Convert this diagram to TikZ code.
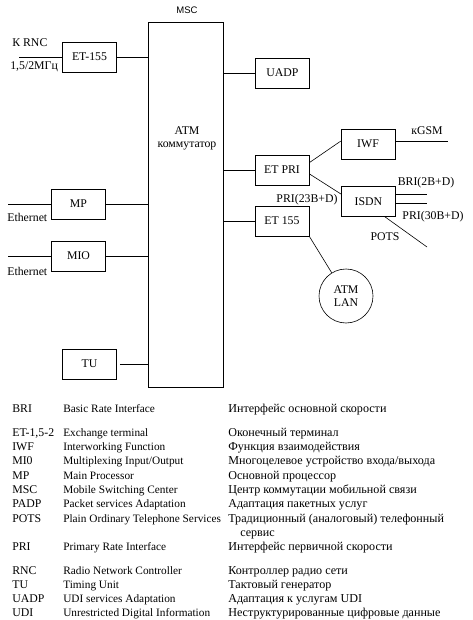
\documentclass[tikz,border=0pt]{standalone}
\usepackage{fontspec}
\usepackage{array}
\setmainfont{Liberation Serif}
\setsansfont{Liberation Sans}
\newcolumntype{W}[1]{>{\hbox to #1\bgroup}l<{\hss\egroup}}

\begin{document}
\begin{tikzpicture}[x=1pt, y=-1pt, line width=0.6pt, font=\fontsize{11.8}{13.5}\selectfont,
  blok/.style={draw, inner sep=0pt, minimum width=54pt, minimum height=30pt},
  lbl/.style={inner sep=0pt}]

\useasboundingbox (0,0) rectangle (472,620);

% MSC with the ATM switch
\node[draw, minimum width=75pt, minimum height=365pt] (msc) at (185.5,204.5) {};
\node[lbl, font=\sffamily\fontsize{9.5}{11}\selectfont] (msclbl) at (187,10) {MSC};
\node[align=center] (atm) at (187,138.5) {ATM\\коммутатор};

\node[blok] (et1) at (89.5,57) {ET-155};
\node[blok] (uadp) at (282.5,73) {UADP};
\node[blok] (etpri) at (282,170) {ET PRI};
\node[blok] (iwf) at (368,144) {IWF};
\node[blok] (isdn) at (368.5,201.5) {ISDN};
\node[blok] (et2) at (282,221) {ET 155};
\node[blok] (mp) at (78.5,204) {MP};
\node[blok] (mio) at (78.5,256) {MIO};
\node[blok] (tu) at (89.5,364) {TU};
\node[draw, circle, minimum size=54pt, inner sep=0pt, align=center] (lan) at (346,296) {ATM\\LAN};

% free ends
\coordinate (rnc) at (19,57);
\coordinate (eth1) at (8,204);
\coordinate (eth2) at (8,256);
\coordinate (gsm) at (448,141);
\coordinate (bri) at (427,194);
\coordinate (pri) at (427,203);
\coordinate (pots) at (427,247);

\draw (rnc) -- (et1.west);
\draw (et1.east) -- (msc.west |- et1);
\draw (eth1) -- (mp.west);
\draw (mp.east) -- (msc.west |- mp);
\draw (eth2) -- (mio.west);
\draw (mio.east) -- (msc.west |- mio);
\draw ([xshift=3pt]tu.east) -- (msc.west |- tu);

\draw (msc.east |- uadp) -- (uadp.west);
\draw (msc.east |- etpri) -- (etpri.west);
\draw (msc.east |- et2) -- (et2.west);
\draw (etpri.15) -- (iwf.174);
\draw (iwf.east |- gsm) -- (gsm);
\draw (etpri.-8) -- (isdn.165);
\draw (isdn.east |- bri) -- (bri);
\draw (isdn.east |- pri) -- (pri);
\draw (isdn.-43) -- (pots);
\draw (et2.south east) -- (lan);

% labels
\node[lbl, anchor=west] (rnclbl) at (12,43) {К RNC};
\node[lbl, anchor=west] (freq) at (10,67) {1,5/2МГц};
\node[lbl, anchor=west] (eth1lbl) at (7,217) {Ethernet};
\node[lbl, anchor=west] (eth2lbl) at (7,271) {Ethernet};
\node[lbl] (gsmlbl) at (427,131) {кGSM};
\node[lbl] (brilbl) at (426,183) {BRI(2B+D)};
\node[lbl] (pri30lbl) at (433,217) {PRI(30B+D)};
\node[lbl] (potslbl) at (385,237) {POTS};
\node[lbl] (pri23lbl) at (307,200) {PRI(23B+D)};

% legend
\node[lbl, anchor=base west, font=\fontsize{11.8}{14.3}\selectfont] (legend) at (12,412.5) {%
\begin{tabular}[t]{@{}W{51pt}@{}>{\fontsize{11.3}{14.3}\selectfont}W{165pt}@{}>{\fontsize{12.1}{14.3}\selectfont}l@{}}
BRI & Basic Rate Interface & Интерфейс основной скорости\\[9.5pt]
ET-1,5-2 & Exchange terminal & Оконечный терминал\\
IWF & Interworking Function & Функция взаимодействия\\
MI0 & Multiplexing Input/Output & Многоцелевое устройство входа/выхода\\
MP & Main Processor & Основной процессор\\
MSC & Mobile Switching Center & Центр коммутации мобильной связи\\
PADP & Packet services Adaptation & Адаптация пакетных услуг\\
POTS & Plain Ordinary Telephone Services & Традиционный (аналоговый) телефонный\\
 & & \hspace{12pt}сервис\\
PRI & Primary Rate  Interface & Интерфейс первичной скорости\\[9pt]
RNC & Radio Network Controller & Контроллер радио сети\\
TU & Timing Unit & Тактовый генератор\\
UADP & UDI services Adaptation & Адаптация к услугам UDI\\
UDI & Unrestricted Digital Information & Неструктурированные цифровые данные
\end{tabular}};

\end{tikzpicture}
\end{document}
